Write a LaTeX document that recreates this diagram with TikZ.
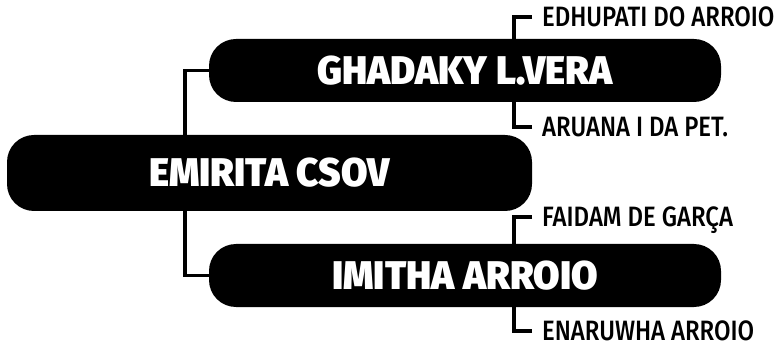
\documentclass[tikz,border=0pt]{standalone}
\usepackage{fontspec}
\setmainfont{Fira Sans}
\newfontfamily\titlefont[FakeStretch=0.96]{Fira Sans Black}
\newfontfamily\leaffont[FakeStretch=0.855]{Fira Sans Medium}
\usepackage{tikz}

\begin{document}
\begin{tikzpicture}[x=1pt, y=-1pt,
  box/.style={fill=black, rounded corners=27pt, text=white, inner sep=0pt,
    text height=27.5pt, text depth=0pt,
    font=\titlefont\fontsize{40}{40}\selectfont},
  leaf/.style={anchor=west, inner sep=0pt, inner xsep=10pt,
    text height=19pt, text depth=0pt,
    font=\leaffont\fontsize{28}{28}\selectfont},
  link/.style={line width=3.5pt}]

\useasboundingbox (0,0) rectangle (776,347);

\node [box, minimum width=512pt, minimum height=63pt] (ghadaky) at (465, 70.5) {GHADAKY L.VERA};
\node [box, minimum width=525pt, minimum height=76pt] (emirita) at (269.5, 173) {EMIRITA CSOV};
\node [box, minimum width=512pt, minimum height=63pt] (imitha) at (465, 275.5) {IMITHA ARROIO};

\node [leaf] (edhupati) at (532, 17) {EDHUPATI DO ARROIO};
\node [leaf] (aruana) at (532, 127) {ARUANA I DA PET.};
\node [leaf] (faidam) at (532, 217) {FAIDAM DE GARÇA};
\node [leaf] (enaruwha) at (532, 331) {ENARUWHA ARROIO};

\draw [link] (ghadaky.west) -| ([xshift=178pt]emirita.north west);
\draw [link] (imitha.west) -| ([xshift=178pt]emirita.south west);
\draw [link] (edhupati.west) -| ([xshift=305pt]ghadaky.north west);
\draw [link] (aruana.west) -| ([xshift=305pt]ghadaky.south west);
\draw [link] (faidam.west) -| ([xshift=305pt]imitha.north west);
\draw [link] (enaruwha.west) -| ([xshift=305pt]imitha.south west);

\end{tikzpicture}
\end{document}
